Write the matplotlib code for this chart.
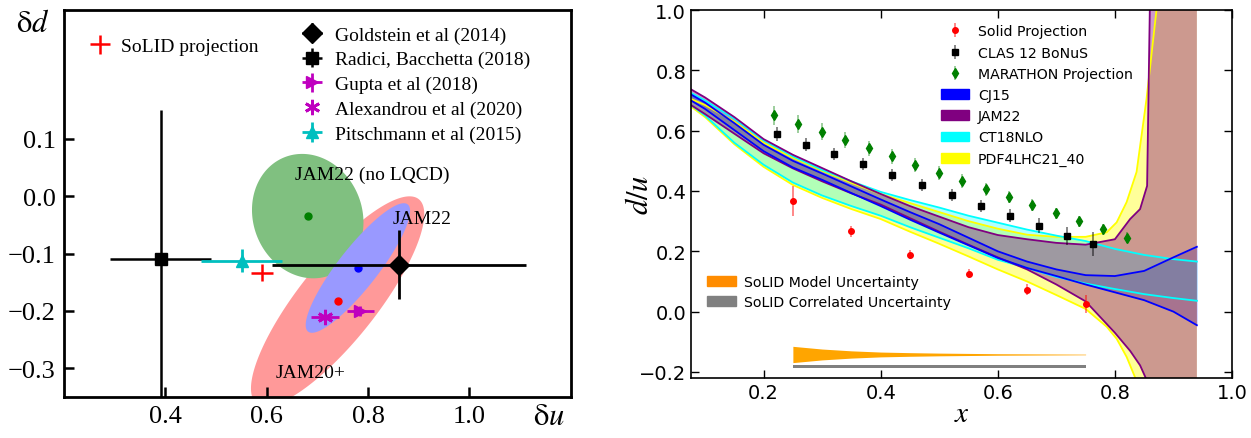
import numpy as np
import matplotlib.pyplot as plt
from matplotlib.patches import Patch

plt.rcParams['mathtext.fontset'] = 'stix'
SERIF = 'Liberation Serif'

# ---------------- left panel: tensor charges (delta u, delta d) ----------------
goldstein = [0.861, -0.119, 0.25, 0.06]      # x, y, xerr, yerr
radici = [0.391, -0.110, 0.10, 0.26]
gupta = [0.785, -0.200, 0.027, 0.008]
alexandrou = [0.715, -0.211, 0.027, 0.008]
pitschmann = [0.551, -0.112, 0.08, 0.02]
solid_proj = [0.591, -0.133, 0.022, 0.015]

# correlation ellipses: centre x, centre y, sigma x, sigma y, rho
jam20_ell = [0.74, -0.183, 0.171, 0.183, 0.83]
jam22_ell = [0.78, -0.125, 0.103, 0.113, 0.88]
jam22_nolqcd_ell = [0.681, -0.0345, 0.11, 0.1085, -0.1]

# ---------------- right panel: d/u ----------------
solid_x = [0.25, 0.35, 0.45, 0.55, 0.65, 0.75]
solid_y = [0.368, 0.266, 0.188, 0.125, 0.073, 0.025]
solid_err = [0.05, 0.017, 0.015, 0.015, 0.017, 0.03]

clas_x = [0.223, 0.272, 0.32, 0.37, 0.42, 0.471, 0.521, 0.572, 0.62, 0.67, 0.719, 0.762]
clas_y = [0.589, 0.554, 0.522, 0.488, 0.453, 0.419, 0.386, 0.351, 0.318, 0.285, 0.252, 0.224]
clas_err = [0.022, 0.022, 0.02, 0.02, 0.02, 0.02, 0.02, 0.02, 0.022, 0.025, 0.03, 0.04]

mar_x = [0.218, 0.258, 0.299, 0.339, 0.38, 0.419, 0.459, 0.499,
         0.539, 0.579, 0.619, 0.659, 0.699, 0.739, 0.78, 0.82]
mar_y = [0.651, 0.623, 0.597, 0.569, 0.541, 0.515, 0.487, 0.461,
         0.433, 0.405, 0.380, 0.352, 0.326, 0.299, 0.273, 0.245]
mar_err = [0.032, 0.03, 0.028, 0.027, 0.026, 0.025, 0.024, 0.023,
           0.022, 0.021, 0.02, 0.02, 0.019, 0.018, 0.018, 0.018]

xg = [0.076, 0.1, 0.15, 0.2, 0.25, 0.3, 0.35, 0.4, 0.45, 0.5, 0.55, 0.6,
      0.65, 0.7, 0.75, 0.8, 0.85, 0.9, 0.94]
cj15_hi = [0.72, 0.693, 0.625, 0.553, 0.5, 0.458, 0.415, 0.372, 0.33, 0.29, 0.245, 0.2,
           0.166, 0.14, 0.121, 0.118, 0.135, 0.18, 0.215]
cj15_lo = [0.70, 0.672, 0.602, 0.532, 0.478, 0.437, 0.393, 0.35, 0.305, 0.262, 0.22, 0.178,
           0.145, 0.118, 0.09, 0.064, 0.038, 0.0, -0.045]
ct18_hi = [0.725, 0.70, 0.64, 0.568, 0.515, 0.47, 0.432, 0.397, 0.37, 0.345, 0.318, 0.295,
           0.272, 0.252, 0.234, 0.208, 0.188, 0.174, 0.166]
ct18_lo = [0.685, 0.65, 0.56, 0.487, 0.428, 0.385, 0.35, 0.318, 0.28, 0.245, 0.21, 0.172,
           0.145, 0.115, 0.093, 0.075, 0.058, 0.045, 0.036]

jam_x = [0.076, 0.1, 0.15, 0.2, 0.25, 0.3, 0.35, 0.4, 0.45, 0.5, 0.55, 0.6,
         0.65, 0.7, 0.75, 0.8, 0.826, 0.843, 0.855, 0.86, 0.87, 0.94]
jam22_hi = [0.737, 0.71, 0.645, 0.572, 0.52, 0.476, 0.432, 0.39, 0.35, 0.315, 0.28, 0.254,
            0.24, 0.228, 0.222, 0.24, 0.307, 0.34, 0.417, 1.05, 1.5, 2.0]
jam22_lo = [0.685, 0.655, 0.59, 0.525, 0.475, 0.432, 0.392, 0.355, 0.31, 0.265, 0.222, 0.18,
            0.14, 0.09, 0.034, -0.07, -0.13, -0.178, -0.23, -0.3, -0.5, -1.0]

pdf_x = [0.076, 0.1, 0.15, 0.2, 0.25, 0.3, 0.35, 0.4, 0.45, 0.5, 0.55, 0.6, 0.65, 0.7,
         0.75, 0.786, 0.803, 0.82, 0.837, 0.854, 0.871, 0.89, 0.94]
pdf_hi = [0.705, 0.685, 0.63, 0.56, 0.51, 0.467, 0.427, 0.39, 0.36, 0.33, 0.3, 0.275,
          0.255, 0.248, 0.248, 0.263, 0.296, 0.363, 0.463, 0.705, 1.0, 1.4, 2.0]
pdf_lo = [0.68, 0.645, 0.555, 0.48, 0.42, 0.377, 0.34, 0.307, 0.265, 0.225, 0.183, 0.14,
          0.10, 0.055, 0.009, -0.05, -0.09, -0.15, -0.23, -0.35, -0.5, -0.7, -1.2]

unc_x = [0.25, 0.3, 0.35, 0.4, 0.45, 0.5, 0.55, 0.6, 0.65, 0.7, 0.75]
model_half = [0.027, 0.018, 0.012, 0.008, 0.006, 0.0045, 0.0035, 0.0025, 0.002, 0.0015, 0.001]
model_centre = -0.142
corr_lo, corr_hi = -0.186, -0.176

fig = plt.figure(figsize=(12.51, 4.39), dpi=100)

# ======================= left =======================
ax1 = fig.add_axes([64 / 1251, 41 / 439, 506.7 / 1251, 387 / 439])
t = np.linspace(0, 2 * np.pi, 300)
for (cx, cy, sx, sy, rho), col in [(jam20_ell, '#ff9999'), (jam22_nolqcd_ell, '#80c080'),
                                   (jam22_ell, '#9999ff')]:
    ex = cx + sx * np.cos(t)
    ey = cy + sy * (rho * np.cos(t) + np.sqrt(1 - rho ** 2) * np.sin(t))
    ax1.fill(ex, ey, color=col, lw=0, zorder=1)

ax1.plot(jam22_nolqcd_ell[0], jam22_nolqcd_ell[1], 'o', color='green', ms=5, zorder=3)
ax1.plot(jam22_ell[0], jam22_ell[1], 'o', color='blue', ms=5, zorder=3)
ax1.plot(jam20_ell[0], jam20_ell[1], 'o', color='red', ms=5, zorder=3)

ax1.text(0.655, 0.039, 'JAM22 (no LQCD)', fontsize=14, family=SERIF, va='center')
ax1.text(0.848, -0.038, 'JAM22', fontsize=14, family=SERIF, va='center')
ax1.text(0.618, -0.307, 'JAM20+', fontsize=14, family=SERIF, va='center')

h_sol = ax1.errorbar(solid_proj[0], solid_proj[1], xerr=solid_proj[2], yerr=solid_proj[3],
                     fmt='none', ecolor='red', elinewidth=1.8, zorder=5)
h_gold = ax1.errorbar(goldstein[0], goldstein[1], xerr=goldstein[2], yerr=goldstein[3],
                      fmt='D', color='black', ms=10, elinewidth=2, zorder=5)
h_rad = ax1.errorbar(radici[0], radici[1], xerr=radici[2], yerr=radici[3],
                     fmt='s', color='black', ms=9, elinewidth=1.8, zorder=4)
h_gup = ax1.errorbar(gupta[0], gupta[1], xerr=gupta[2], yerr=gupta[3],
                     fmt='>', color='m', ms=9, elinewidth=2, zorder=5)
ax1.errorbar(alexandrou[0], alexandrou[1], xerr=alexandrou[2], yerr=alexandrou[3],
             fmt='none', ecolor='m', elinewidth=2, zorder=5)
ax1.plot(alexandrou[0], alexandrou[1], marker=(6, 2, 0), color='m', ms=11, mew=2, zorder=5)
h_pit = ax1.errorbar(pitschmann[0], pitschmann[1], xerr=pitschmann[2], yerr=pitschmann[3],
                     fmt='^', color='c', ms=9, elinewidth=2, zorder=5)
ale_proxy = plt.Line2D([], [], marker=(6, 2, 0), color='m', ms=11, mew=2, ls='none')

ax1.set_xlim(0.2, 1.2)
ax1.set_ylim(-0.35, 0.325)
ax1.set_xticks([0.4, 0.6, 0.8, 1.0])
ax1.set_yticks([-0.3, -0.2, -0.1, 0.0, 0.1])
ax1.tick_params(direction='in', length=7, width=1.8, labelsize=19, pad=6)
for lab in ax1.get_xticklabels() + ax1.get_yticklabels():
    lab.set_family(SERIF)
for sp in ax1.spines.values():
    sp.set_linewidth(2)

leg_a = ax1.legend([h_sol], ['SoLID projection'], loc='upper left',
                   bbox_to_anchor=(0.046, 0.929), frameon=False, borderpad=0, borderaxespad=0,
                   handlelength=1.3, handletextpad=0.45, prop={'family': SERIF, 'size': 14})
ax1.add_artist(leg_a)
ax1.legend([h_gold, h_rad, h_gup, ale_proxy, h_pit],
           ['Goldstein et al (2014)', 'Radici, Bacchetta (2018)', 'Gupta et al (2018)',
            'Alexandrou et al (2020)', 'Pitschmann et al (2015)'],
           loc='upper left', bbox_to_anchor=(0.466, 0.959), frameon=False, borderpad=0,
           borderaxespad=0, handlelength=1.2, handletextpad=0.6, labelspacing=0.37,
           prop={'family': SERIF, 'size': 14})

fig.text(16 / 1251, 1 - 23 / 439, r'$\mathrm{\delta}d$', fontsize=22, va='center', ha='left')
fig.text(533 / 1251, 1 - 417 / 439, r'$\mathrm{\delta}u$', fontsize=22, va='center', ha='left')

# ======================= right =======================
ax2 = fig.add_axes([691 / 1251, 60 / 439, 541 / 1251, 368 / 439])
bands = [(xg, cj15_lo, cj15_hi, 'blue', 0.4), (pdf_x, pdf_lo, pdf_hi, 'yellow', 0.4),
         (xg, ct18_lo, ct18_hi, 'cyan', 0.3), (jam_x, jam22_lo, jam22_hi, 'purple', 0.4)]
for bx, lo, hi, col, a in bands:
    ax2.fill_between(bx, lo, hi, color=col, alpha=a, lw=0)
for bx, lo, hi, col, a in bands[1:] + bands[:1]:
    ax2.plot(bx, lo, color=col, lw=1.3)
    ax2.plot(bx, hi, color=col, lw=1.3)

ax2.fill_between(unc_x, [model_centre - h for h in model_half],
                 [model_centre + h for h in model_half], color='orange', lw=0)
ax2.fill_between([0.25, 0.75], corr_lo, corr_hi, color='gray', lw=0)

h1 = ax2.errorbar(solid_x, solid_y, yerr=solid_err, fmt='o', color='red', ms=4,
                  ecolor=(1, 0, 0, 0.55), elinewidth=1.2, zorder=5)
h2 = ax2.errorbar(clas_x, clas_y, yerr=clas_err, fmt='s', color='black', ms=5,
                  ecolor=(0, 0, 0, 0.55), elinewidth=1.2, zorder=5)
h3 = ax2.errorbar(mar_x, mar_y, yerr=mar_err, fmt='d', color='green', ms=5,
                  ecolor=(0, 0.5, 0, 0.45), elinewidth=1.2, zorder=5)
p_cj = Patch(facecolor='blue', edgecolor='blue')
p_jam = Patch(facecolor='purple', edgecolor='purple')
p_ct = Patch(facecolor='cyan', edgecolor='cyan')
p_pdf = Patch(facecolor='yellow', edgecolor='yellow')
leg1 = ax2.legend([h1, h2, h3, p_cj, p_jam, p_ct, p_pdf],
                  ['Solid Projection', 'CLAS 12 BoNuS', 'MARATHON Projection',
                   'CJ15', 'JAM22', 'CT18NLO', 'PDF4LHC21_40'],
                  loc='upper left', bbox_to_anchor=(0.462, 0.961), frameon=False,
                  borderpad=0, borderaxespad=0, fontsize=10.2, labelspacing=0.51,
                  handletextpad=0.6)
ax2.add_artist(leg1)
ax2.legend([Patch(facecolor='darkorange', edgecolor='darkorange'),
            Patch(facecolor='gray', edgecolor='gray')],
           ['SoLID Model Uncertainty', 'SoLID Correlated Uncertainty'],
           loc='upper left', bbox_to_anchor=(0.03, 0.279), frameon=False, borderpad=0,
           borderaxespad=0, fontsize=10.2, labelspacing=0.38, handletextpad=0.6)

ax2.set_xlim(0.076, 1.0)
ax2.set_ylim(-0.22, 1.0)
ax2.set_xticks([0.2, 0.4, 0.6, 0.8, 1.0])
ax2.set_yticks([-0.2, 0.0, 0.2, 0.4, 0.6, 0.8, 1.0])
ax2.tick_params(direction='in', top=True, right=True, length=6, width=1, labelsize=14)
for sp in ax2.spines.values():
    sp.set_linewidth(1.2)

fig.text(640 / 1251, 1 - 195 / 439, r'$d/u$', fontsize=22, rotation=90, va='center', ha='center')
fig.text(962 / 1251, 1 - 414 / 439, r'$x$', fontsize=21, va='center', ha='center')

fig.savefig('out.png', dpi=100)
